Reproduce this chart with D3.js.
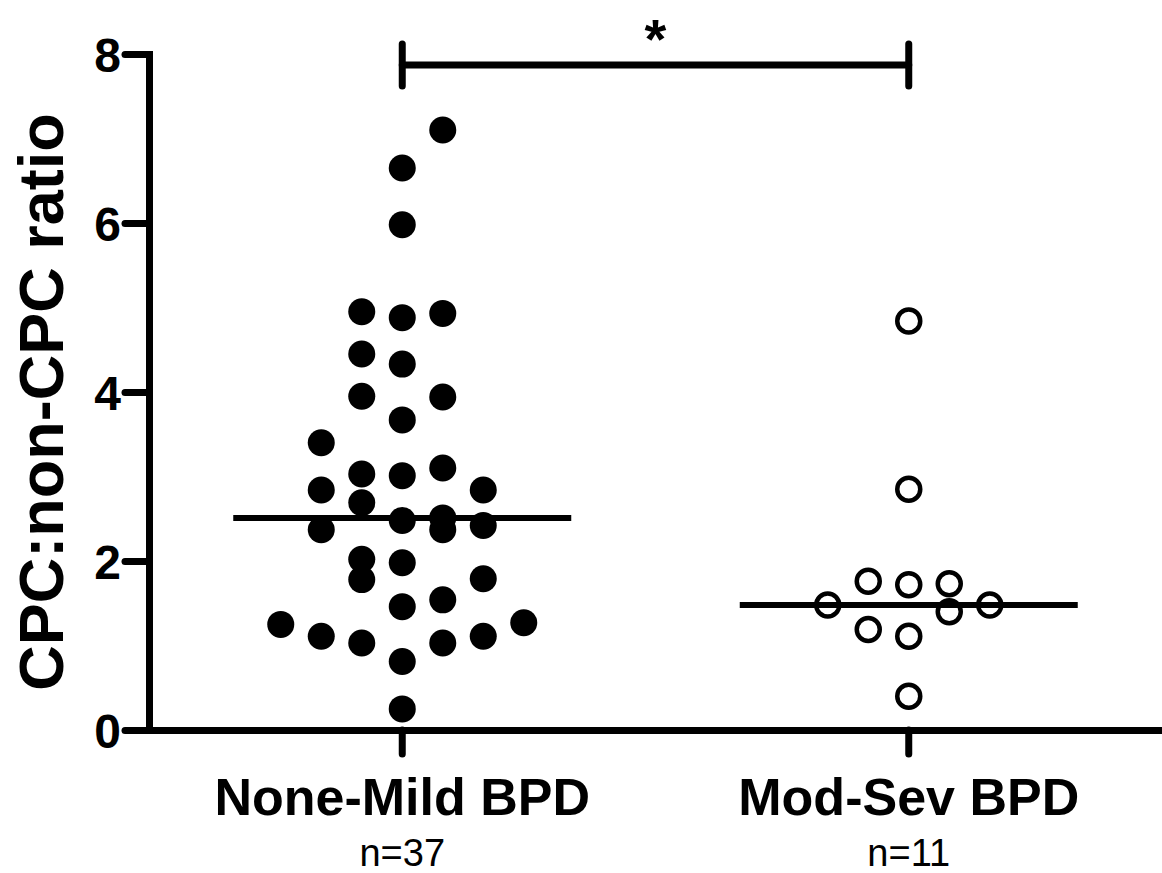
<!DOCTYPE html>
<html>
<head>
<meta charset="utf-8">
<script src="https://cdn.jsdelivr.net/npm/d3@7"></script>
<style>
  body { margin: 0; background: #fff; }
  text { font-family: "Liberation Sans", Arial, sans-serif; fill: #000; }
</style>
</head>
<body>
<svg id="chart" width="1162" height="873"></svg>
<script>
// groups and their sample sizes
var categories = ['None-Mild BPD', 'Mod-Sev BPD'];
var groupN = ['n=37', 'n=11'];
var yTicks = [0, 2, 4, 6, 8];

// CPC:non-CPC ratio per subject
var noneMildValues = [7.10, 6.65, 5.98, 4.95, 4.88, 4.93, 4.45, 4.33, 3.95, 3.94,
    3.67, 3.40, 3.03, 3.01, 3.10, 2.84, 2.84, 2.69, 2.48, 2.51,
    2.37, 2.37, 2.42, 2.02, 1.98, 1.78, 1.79, 1.46, 1.54, 1.25,
    1.27, 1.11, 1.11, 1.03, 1.03, 0.81, 0.25];
// scatter lane of each point (0 = centre column)
var noneMildLane = [1, 0, 0, -1, 0, 1, -1, 0, -1, 1,
    0, -2, -1, 0, 1, -2, 2, -1, 0, 1,
    -2, 1, 2, -1, 0, -1, 2, 0, 1, -3,
    3, -2, 2, -1, 1, 0, 0];

var modSevValues = [4.84, 2.85, 1.76, 1.72, 1.73, 1.48, 1.48, 1.40, 1.19, 1.11, 0.40];
var modSevLane = [0, 0, -1, 0, 1, -2, 2, 1, -1, 0, 0];

var significance = '*';

var svg = d3.select('#chart');
var axisLeftX = 149;
var plotRight = 1162;
var plotTop = 54;
var plotBottom = 730;
var r = 13.5;
var laneGap = 40.5;
var medianHalf = 169;

var x = d3.scaleBand()
    .domain(categories)
    .range([axisLeftX, plotRight])
    .padding(0);
var cx = function(c) { return x(c) + x.bandwidth() / 2; };

var y = d3.scaleLinear()
    .domain([0, 8])
    .range([plotBottom, plotTop]);

// y axis
var yAxis = svg.append('g')
    .attr('transform', 'translate(' + axisLeftX + ',0)')
    .call(d3.axisLeft(y).tickValues(yTicks).tickSize(24).tickPadding(4).tickSizeOuter(0));
yAxis.select('.domain').attr('stroke', '#000').attr('stroke-width', 7).attr('stroke-linecap', 'square');
yAxis.selectAll('.tick line').attr('stroke', '#000').attr('stroke-width', 7).attr('stroke-linecap', 'round');
yAxis.selectAll('.tick text')
    .style('font-size', '48px')
    .style('font-weight', 'bold')
    .attr('dy', '0.36em');

// x axis
var xAxis = svg.append('g')
    .attr('transform', 'translate(0,' + plotBottom + ')')
    .call(d3.axisBottom(x).tickSize(24).tickSizeOuter(0).tickFormat(''));
xAxis.select('.domain').attr('stroke', '#000').attr('stroke-width', 7);
xAxis.selectAll('.tick line').attr('stroke', '#000').attr('stroke-width', 7).attr('stroke-linecap', 'round');

// category labels
svg.selectAll('text.cat')
    .data(categories)
    .enter().append('text')
    .attr('class', 'cat')
    .attr('x', cx)
    .attr('y', 815)
    .attr('text-anchor', 'middle')
    .style('font-size', '52px')
    .style('font-weight', 'bold')
    .text(function(d) { return d; });

svg.selectAll('text.n')
    .data(groupN)
    .enter().append('text')
    .attr('class', 'n')
    .attr('x', function(d, i) { return cx(categories[i]); })
    .attr('y', 866)
    .attr('text-anchor', 'middle')
    .style('font-size', '38px')
    .text(function(d) { return d; });

// y title
svg.append('text')
    .attr('transform', 'translate(63,402) rotate(-90)')
    .attr('text-anchor', 'middle')
    .style('font-size', '63px')
    .style('font-weight', 'bold')
    .text('CPC:non-CPC ratio');

// points
var groups = [
    {cat: categories[0], values: noneMildValues, lanes: noneMildLane, filled: true},
    {cat: categories[1], values: modSevValues, lanes: modSevLane, filled: false}
];

groups.forEach(function(g) {
    var pts = g.values.map(function(v, i) { return {v: v, lane: g.lanes[i]}; });
    svg.append('g').selectAll('circle')
        .data(pts)
        .enter().append('circle')
        .attr('cx', function(d) { return cx(g.cat) + d.lane * laneGap; })
        .attr('cy', function(d) { return y(d.v); })
        .attr('r', g.filled ? r : r - 2)
        .attr('fill', g.filled ? '#000' : 'none')
        .attr('stroke', g.filled ? 'none' : '#000')
        .attr('stroke-width', 4.5);

    // median line
    var med = d3.median(g.values);
    svg.append('line')
        .attr('x1', cx(g.cat) - medianHalf)
        .attr('x2', cx(g.cat) + medianHalf)
        .attr('y1', y(med))
        .attr('y2', y(med))
        .attr('stroke', '#000')
        .attr('stroke-width', 6);
});

// significance bracket
var bx1 = cx(categories[0]), bx2 = cx(categories[1]), by = 65;
var bracket = svg.append('g')
    .attr('stroke', '#000')
    .attr('stroke-width', 7)
    .attr('stroke-linecap', 'round');
bracket.append('line').attr('x1', bx1).attr('x2', bx2).attr('y1', by).attr('y2', by);
bracket.append('line').attr('x1', bx1).attr('x2', bx1).attr('y1', by - 21).attr('y2', by + 21);
bracket.append('line').attr('x1', bx2).attr('x2', bx2).attr('y1', by - 21).attr('y2', by + 21);

svg.append('text')
    .attr('x', (bx1 + bx2) / 2)
    .attr('y', 58)
    .attr('text-anchor', 'middle')
    .style('font-size', '56px')
    .style('font-weight', 'bold')
    .text(significance);
</script>
</body>
</html>
